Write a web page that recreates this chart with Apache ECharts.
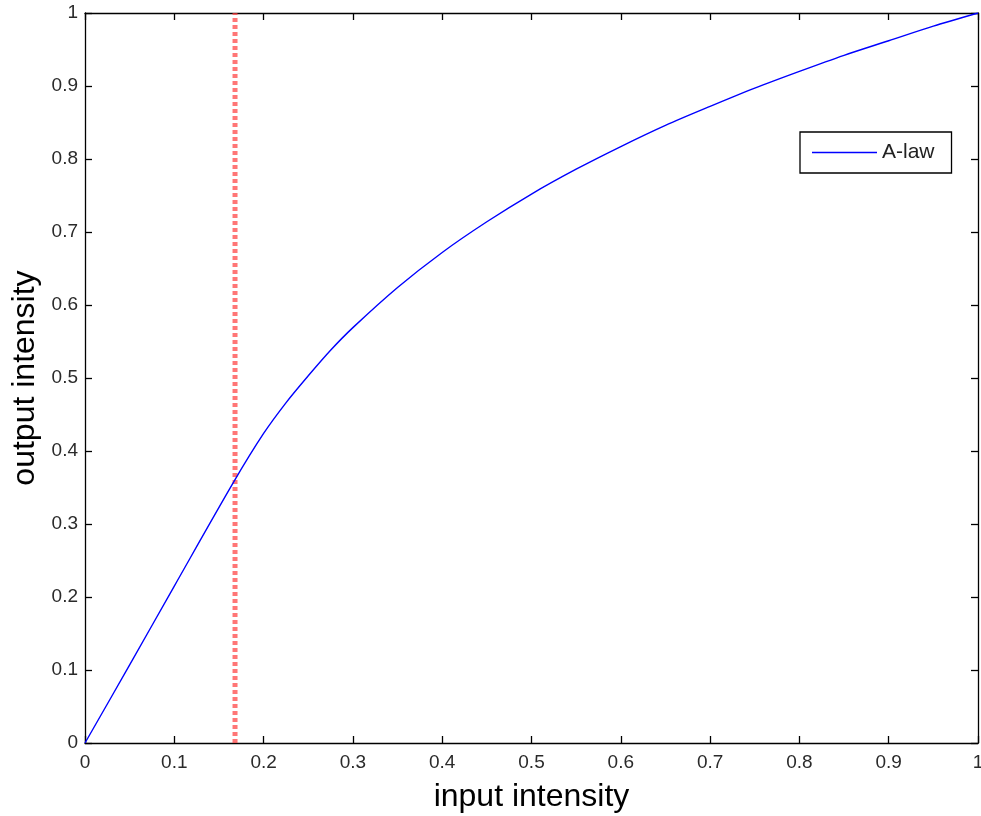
<!DOCTYPE html>
<html>
<head>
<meta charset="utf-8">
<script src="https://cdn.jsdelivr.net/npm/echarts@6/dist/echarts.min.js"></script>
<style>
  html, body { margin: 0; padding: 0; background: #fff; }
  #chart { width: 981px; height: 816px; }
</style>
</head>
<body>
<div id="chart"></div>
<script>
// Values
const inputX = [0, 0.05, 0.1, 0.1667, 0.2, 0.225, 0.25, 0.275, 0.3, 0.35, 0.4, 0.45, 0.5,
                0.55, 0.6, 0.65, 0.7, 0.75, 0.8, 0.85, 0.9, 0.95, 1];
const outputY = [0, 0.107, 0.215, 0.358, 0.424, 0.466, 0.503, 0.538, 0.569, 0.624, 0.672, 0.714, 0.752,
                 0.786, 0.817, 0.846, 0.872, 0.897, 0.920, 0.942, 0.962, 0.982, 1];
const thresholdX = 0.168;
const thresholdSpan = [0, 1];
const tickStep = 0.1;

const curve = inputX.map((x, i) => [x, outputY[i]]);
const threshold = thresholdSpan.map(y => [thresholdX, y]);

const fontFamily = 'Liberation Sans, Arial, sans-serif';
const tickLabel = { color: '#2a2a2a', fontSize: 19, fontFamily: fontFamily };
const axisLine = { show: true, onZero: false, lineStyle: { color: '#000', width: 1.3 } };
const axisTick = { show: true, inside: true, length: 7, lineStyle: { color: '#000', width: 1.3 } };

let chart = echarts.init(document.getElementById('chart'));
chart.setOption({
    animation: false,
    backgroundColor: '#fff',
    grid: { left: 85, right: 3, top: 13, bottom: 73, outerBoundsMode: 'none', containLabel: false },
    legend: {
        data: [{ name: 'A-law', icon: 'rect' }],
        left: 800, top: 132,
        orient: 'vertical',
        itemWidth: 65, itemHeight: 1.6,
        padding: [10, 17, 10, 12],
        borderColor: '#000', borderWidth: 1.3,
        backgroundColor: '#fff',
        textStyle: { color: '#222', fontSize: 21, fontFamily: fontFamily }
    },
    xAxis: [{
        type: 'value', min: 0, max: 1, interval: tickStep,
        name: 'input intensity', nameLocation: 'middle', nameGap: 38,
        nameTextStyle: { color: '#000', fontSize: 32, fontFamily: fontFamily },
        axisLine: axisLine, axisTick: axisTick,
        axisLabel: Object.assign({ margin: 10 }, tickLabel),
        splitLine: { show: false }
    }, {
        type: 'value', min: 0, max: 1, interval: tickStep, position: 'top',
        axisLine: axisLine, axisTick: axisTick,
        axisLabel: { show: false }, splitLine: { show: false }
    }],
    yAxis: [{
        type: 'value', min: 0, max: 1, interval: tickStep,
        name: 'output intensity', nameLocation: 'middle', nameGap: 29,
        nameTextStyle: { color: '#000', fontSize: 32, fontFamily: fontFamily },
        axisLine: axisLine, axisTick: axisTick,
        axisLabel: Object.assign({ margin: 7 }, tickLabel),
        splitLine: { show: false }
    }, {
        type: 'value', min: 0, max: 1, interval: tickStep, position: 'right',
        axisLine: axisLine, axisTick: axisTick,
        axisLabel: { show: false }, splitLine: { show: false }
    }],
    series: [{
        name: 'A-law',
        type: 'line',
        data: curve,
        smooth: 0.3,
        symbol: 'none',
        lineStyle: { color: '#0000ff', width: 1.4 },
        itemStyle: { color: '#0000ff' },
        z: 3
    }, {
        name: 'threshold',
        type: 'line',
        data: threshold,
        symbol: 'none',
        lineStyle: { color: 'rgba(255,60,60,0.7)', width: 5, type: [4, 3] },
        z: 2
    }]
});
</script>
</body>
</html>
